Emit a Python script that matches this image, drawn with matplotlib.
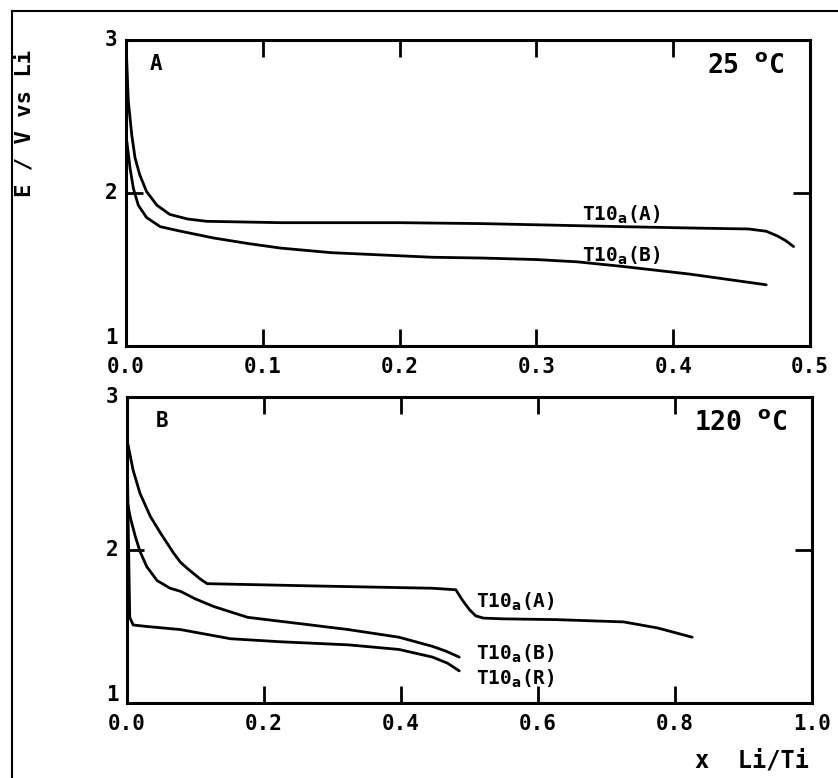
import matplotlib
matplotlib.use("Agg")
import matplotlib.pyplot as plt
from matplotlib.lines import Line2D

# ---- data ----
# Panel A, 25 C
a_A_x = [0.0, 0.0017, 0.0042, 0.0066, 0.010, 0.015, 0.0226, 0.032, 0.045, 0.059, 0.113, 0.2, 0.26,
         0.363, 0.42, 0.455, 0.468, 0.476, 0.482, 0.488]
a_A_y = [2.98, 2.60, 2.38, 2.23, 2.12, 2.01, 1.92, 1.86, 1.83, 1.815, 1.806, 1.806, 1.80,
         1.78, 1.77, 1.765, 1.75, 1.72, 1.69, 1.65]
a_B_x = [0.0, 0.003, 0.0054, 0.009, 0.015, 0.025, 0.040, 0.064, 0.089, 0.113, 0.15, 0.187,
         0.224, 0.26, 0.30, 0.33, 0.363, 0.412, 0.468]
a_B_y = [2.38, 2.16, 2.03, 1.92, 1.84, 1.78, 1.75, 1.706, 1.67, 1.64, 1.61, 1.595,
         1.58, 1.575, 1.565, 1.55, 1.52, 1.47, 1.40]
# Panel B, 120 C
b_A_x = [0.0, 0.009, 0.019, 0.034, 0.049, 0.068, 0.078, 0.088, 0.107, 0.117, 0.274, 0.446, 0.48,
         0.49, 0.50, 0.509, 0.52, 0.549, 0.626, 0.725, 0.775, 0.825]
b_A_y = [2.72, 2.52, 2.37, 2.22, 2.11, 1.98, 1.92, 1.88, 1.81, 1.78, 1.765, 1.75, 1.74,
         1.67, 1.61, 1.57, 1.555, 1.55, 1.545, 1.53, 1.49, 1.43]
b_B_x = [0.0, 0.0044, 0.012, 0.019, 0.029, 0.044, 0.063, 0.078, 0.10, 0.127, 0.176, 0.25,
         0.323, 0.397, 0.446, 0.465, 0.485]
b_B_y = [2.33, 2.22, 2.09, 1.99, 1.89, 1.80, 1.75, 1.73, 1.68, 1.63, 1.56, 1.52,
         1.48, 1.43, 1.37, 1.34, 1.30]
b_R_x = [0.0, 0.002, 0.004, 0.009, 0.029, 0.078, 0.151, 0.225, 0.323, 0.397, 0.446, 0.468, 0.485]
b_R_y = [2.72, 2.10, 1.56, 1.51, 1.50, 1.48, 1.42, 1.40, 1.38, 1.35, 1.30, 1.26, 1.21]

xticksA = [0.0, 0.1, 0.2, 0.3, 0.4, 0.5]
xticklabelsA = ["0.0", "0.1", "0.2", "0.3", "0.4", "0.5"]
xticksB = [0.0, 0.2, 0.4, 0.6, 0.8, 1.0]
xticklabelsB = ["0.0", "0.2", "0.4", "0.6", "0.8", "1.0"]
yticks = [1, 2, 3]
yticklabels = ["1", "2", "3"]

W, H = 838, 778
fig = plt.figure(figsize=(W / 100, H / 100), dpi=100)
FONT = dict(family="DejaVu Sans Mono", fontweight="bold")

def ax_rect(l, t, r, b):
    return [l / W, 1 - b / H, (r - l) / W, (b - t) / H]

axA = fig.add_axes(ax_rect(126, 40, 810, 346))
axB = fig.add_axes(ax_rect(127, 397, 812, 703))

def style(ax, xmax, xt):
    ax.set_xlim(0, xmax)
    ax.set_ylim(1, 3)
    for s in ax.spines.values():
        s.set_linewidth(2.2)
    ax.set_xticks([t for t in xt if 0 < t < xmax])
    ax.set_yticks([2])
    ax.tick_params(direction="in", length=12, width=2, top=True, right=True,
                   labelbottom=False, labelleft=False)
    ax.patch.set_alpha(0)

style(axA, 0.5, xticksA)
style(axB, 1.0, xticksB)

lw = 2.0
kw = dict(color="black", lw=lw, solid_joinstyle="round", solid_capstyle="round")
axA.plot(a_A_x, a_A_y, **kw)
axA.plot(a_B_x, a_B_y, **kw)
axB.plot(b_A_x, b_A_y, **kw)
axB.plot(b_B_x, b_B_y, **kw)
axB.plot(b_R_x, b_R_y, **kw)

fs = 15
# tick labels as real text
for ax, xt, xl in [(axA, xticksA, xticklabelsA), (axB, xticksB, xticklabelsB)]:
    for t, l in zip(xt, xl):
        ax.text(t, -0.035, l, transform=ax.get_xaxis_transform(), ha="center", va="top",
                fontsize=fs, **FONT)
    for t, l in zip(yticks, yticklabels):
        dy = 0.05 if t == 1 else 0.0
        ax.text(-0.012, t + dy, l, transform=ax.get_yaxis_transform(), ha="right",
                va="center", fontsize=fs, **FONT)

axA.text(0.035, 0.92, "A", transform=axA.transAxes, fontsize=fs, ha="left", va="center", **FONT)
axB.text(0.042, 0.92, "B", transform=axB.transAxes, fontsize=fs, ha="left", va="center", **FONT)
axA.text(0.963, 0.915, "25 $^{\\mathbf{o}}$C", transform=axA.transAxes, fontsize=fs + 4,
         ha="right", va="center", **FONT)
axB.text(0.963, 0.915, "120 $^{\\mathbf{o}}$C", transform=axB.transAxes, fontsize=fs + 4,
         ha="right", va="center", **FONT)

def lab(ax, x, y, s):
    ax.text(x, y, "T10$_{\\mathbf{a}}$(" + s + ")", fontsize=fs - 1, ha="left", va="center", **FONT)

lab(axA, 0.333, 1.86, "A")
lab(axA, 0.333, 1.59, "B")
lab(axB, 0.51, 1.66, "A")
lab(axB, 0.51, 1.32, "B")
lab(axB, 0.51, 1.16, "R")

fig.text(25 / W, 1 - 123 / H, "E / V vs Li", rotation=90, ha="center", va="center",
         fontsize=fs + 1, **FONT)
fig.text(752 / W, 1 - 760 / H, "x  Li/Ti", ha="center", va="center", fontsize=fs + 2, **FONT)

# outer frame
fig.add_artist(Line2D([12 / W, 12 / W], [0, 1 - 11 / H], transform=fig.transFigure,
                      color="black", lw=1.5))
fig.add_artist(Line2D([12 / W, 1], [1 - 11 / H, 1 - 11 / H], transform=fig.transFigure,
                      color="black", lw=1.5))

fig.savefig("out.png", dpi=100)
